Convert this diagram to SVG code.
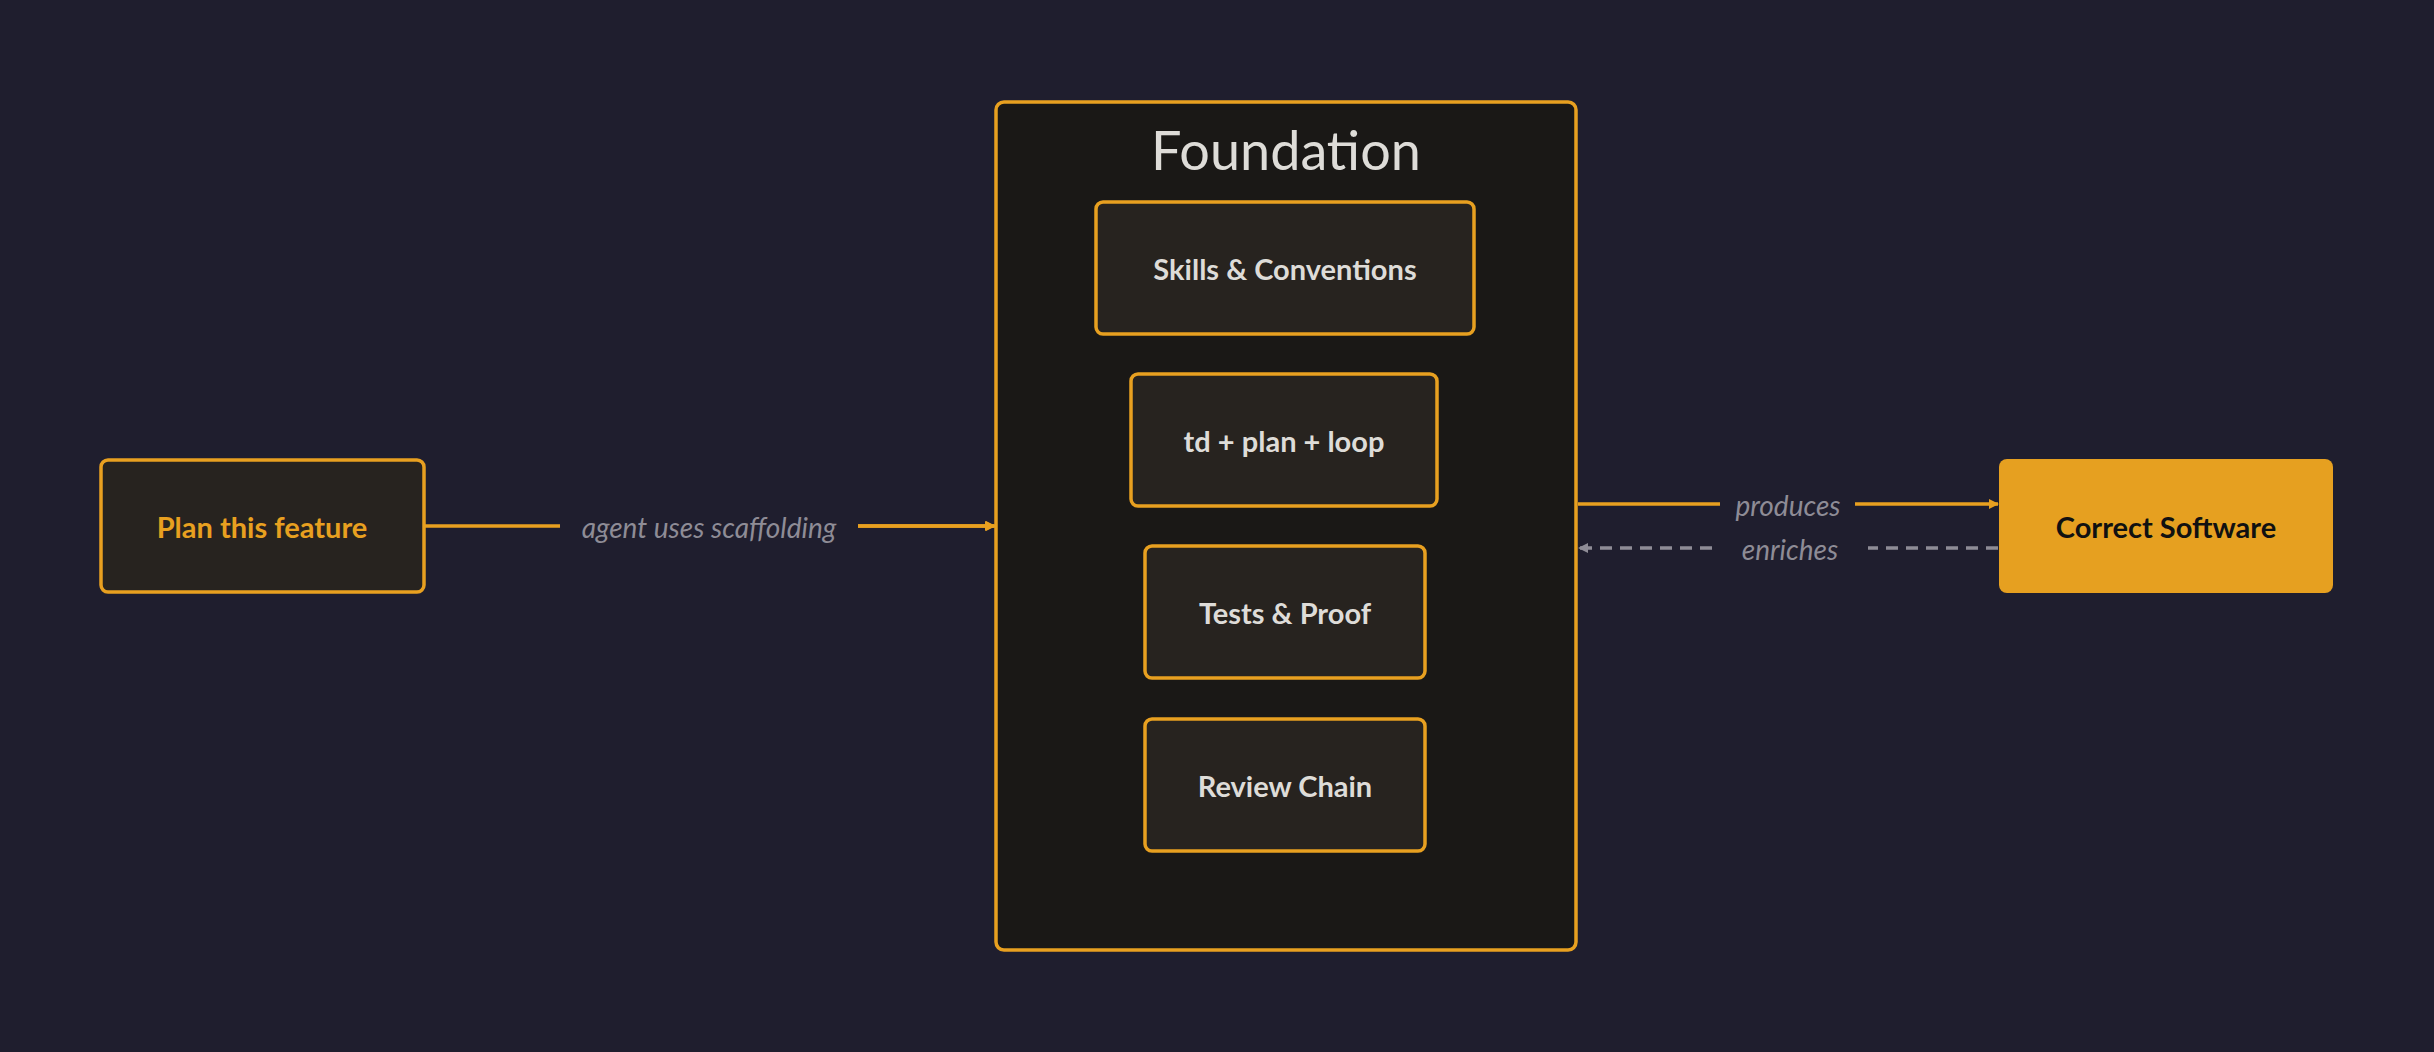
<svg xmlns="http://www.w3.org/2000/svg" width="2434" height="1052" viewBox="0 0 2434 1052">
<style>
.n{fill:#27231F;stroke:#E8A020;stroke-width:3.5}
.t{font-family:Lato,"Noto Sans",sans-serif;font-weight:bold;font-size:29px;fill:#DEDCD8;text-anchor:middle;dominant-baseline:central}
.l{font-family:Lato,"Noto Sans",sans-serif;font-style:italic;font-size:28px;fill:#8E8C96;text-anchor:middle;dominant-baseline:central}
</style>
<defs>
<marker id="ao" markerWidth="10" markerHeight="10" refX="9" refY="5" orient="auto" markerUnits="userSpaceOnUse" viewBox="0 0 10 10"><path d="M0,0L10,5L0,10z" fill="#E8A020"/></marker>
<marker id="ag" markerWidth="10" markerHeight="10" refX="9" refY="5" orient="auto" markerUnits="userSpaceOnUse" viewBox="0 0 10 10"><path d="M0,0L10,5L0,10z" fill="#8E8C96"/></marker>
</defs>
<rect width="2434" height="1052" fill="#1F1E2E"/>
<g id="foundation"><rect x="996" y="102" width="580" height="848" rx="8" fill="#1A1816" stroke="#E8A020" stroke-width="3.5"/>
<text x="1286" y="149" style="font-family:Lato,'Noto Sans',sans-serif;font-size:54px;fill:#DEDCD8;text-anchor:middle;dominant-baseline:central">Foundation</text></g>
<g id="skills"><rect class="n" x="1096" y="202" width="378" height="132" rx="7"/><text class="t" x="1285" y="268">Skills &amp; Conventions</text></g>
<g id="td"><rect class="n" x="1131" y="374" width="306" height="132" rx="7"/><text class="t" x="1284" y="440">td + plan + loop</text></g>
<g id="tests"><rect class="n" x="1145" y="546" width="280" height="132" rx="7"/><text class="t" x="1285" y="612">Tests &amp; Proof</text></g>
<g id="review"><rect class="n" x="1145" y="719" width="280" height="132" rx="7"/><text class="t" x="1285" y="785">Review Chain</text></g>
<g id="plan"><rect class="n" x="101" y="460" width="323" height="132" rx="7"/><text class="t" x="262" y="526" style="fill:#E8A020">Plan this feature</text></g>
<g id="correct"><rect x="1999" y="459" width="334" height="134" rx="8" fill="#E6A020"/><text class="t" x="2166" y="526" style="fill:#111">Correct Software</text></g>
<g id="connectors">
<path d="M424,526H560M858,526H994" stroke="#E8A020" stroke-width="3.5" fill="none"/><path d="M858,526H994" stroke="none" marker-end="url(#ao)"/>
<line x1="858" y1="526" x2="995" y2="526" stroke="#E8A020" stroke-width="3.5" marker-end="url(#ao)"/>
<text class="l" x="709" y="527">agent uses scaffolding</text>
<line x1="1578" y1="504" x2="1720" y2="504" stroke="#E8A020" stroke-width="3.5"/>
<line x1="1855" y1="504" x2="1998" y2="504" stroke="#E8A020" stroke-width="3.5" marker-end="url(#ao)"/>
<text class="l" x="1788" y="505">produces</text>
<line x1="1998" y1="548" x2="1868" y2="548" stroke="#8E8C96" stroke-width="3.5" stroke-dasharray="12,8"/>
<line x1="1712" y1="548" x2="1579" y2="548" stroke="#8E8C96" stroke-width="3.5" stroke-dasharray="12,8" marker-end="url(#ag)"/>
<text class="l" x="1790" y="549">enriches</text>
</g>
</svg>
